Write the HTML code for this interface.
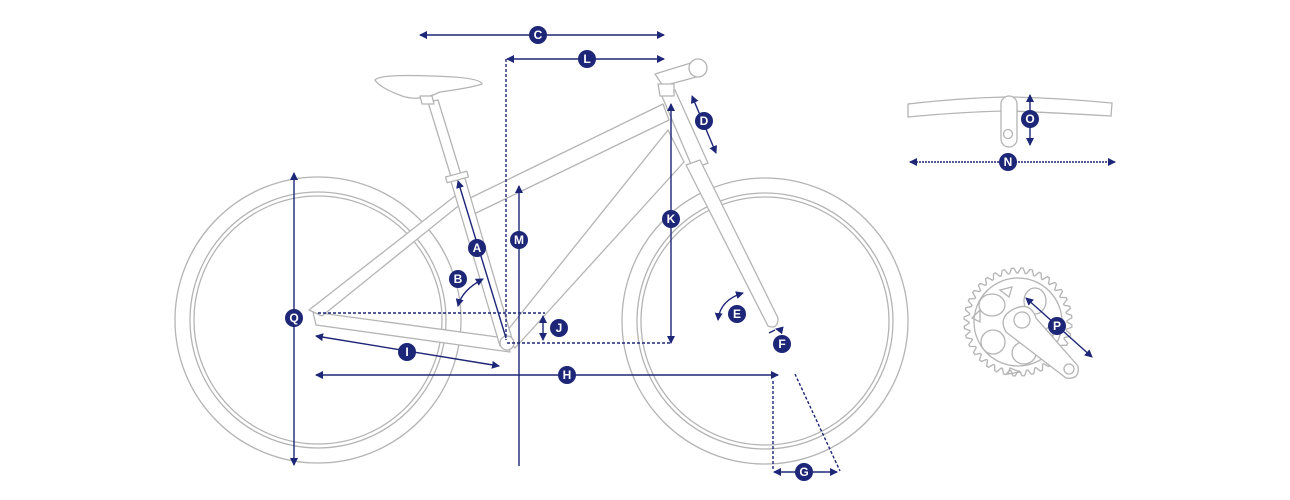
<!DOCTYPE html>
<html><head><meta charset="utf-8"><style>
html,body{margin:0;padding:0;background:#fff;}
svg{display:block}
text{font-family:"Liberation Sans",sans-serif;font-weight:bold;font-size:12px;fill:#fff;text-anchor:middle;dominant-baseline:central}
</style></head><body>
<svg width="1290" height="500" viewBox="0 0 1290 500" xmlns="http://www.w3.org/2000/svg">
<defs>
<marker id="a" markerWidth="8" markerHeight="8" refX="7" refY="4" orient="auto-start-reverse" markerUnits="userSpaceOnUse"><path d="M0,0 L8,4 L0,8 z" fill="#1d2677"/></marker>
</defs>
<g fill="none" stroke="#b4b4b4" stroke-width="1.3">
<circle cx="318" cy="320" r="143"/><circle cx="318" cy="320" r="128"/><circle cx="318" cy="320" r="124"/>
<circle cx="765" cy="321" r="143"/><circle cx="765" cy="321" r="128"/><circle cx="765" cy="321" r="124"/>
</g>
<g fill="#fff" stroke="#b4b4b4" stroke-width="1.3" stroke-linejoin="round">
<path d="M313,312 L505,338 L510,352 L316,325 Z"/>
<path d="M309,310 L455,196 L462,203 L322,316 Z"/>
<path d="M466,200 L663,104 L669,120 L474,214 Z"/>
<path d="M668,130 L503,336 L515,348 L684,162 Z"/>
<path d="M428,102 L438,100 L462,178 L452,180 Z"/>
<path d="M450,178 L464,175 L513,342 L500,346 Z"/>
<rect x="446" y="174" width="22" height="6" transform="rotate(-15 457 177)"/>
<path d="M661,94 L675,90 L708,163 L693,169 Z"/>
<path d="M686,165 L700,160 L778,318 Q778,330 768,326 Z"/>
<path d="M655,74 L694,62 L700,76 L663,86 Z"/>
<path d="M658,84 L674,84 L674,96 L660,96 Z"/>
<circle cx="698" cy="68" r="9"/>
<path d="M375,80 Q380,74 430,76 Q480,77 482,84 Q470,88 440,92 Q420,102 402,96 Q380,88 375,80 Z"/>
<path d="M420,96 L432,96 L434,104 L422,104 Z"/>
<circle cx="507" cy="343" r="7"/>
</g>
<g fill="#fff" stroke="#b4b4b4" stroke-width="1.3">
<path d="M908,104 Q960,98 1005,97 L1012,97 Q1060,98 1112,103 L1111,116 Q1060,113 1012,111 L1005,111 Q960,112 908,117 Z"/>
<rect x="1001" y="96" width="16" height="51" rx="8"/>
<circle cx="1008" cy="134" r="4.5"/>
</g>
<g fill="none" stroke="#b4b4b4" stroke-width="1.3">
<path id="teeth" d=""/>
<circle cx="1018" cy="322" r="44"/>
<ellipse cx="1035" cy="301" rx="11" ry="13"/><ellipse cx="992" cy="305" rx="13" ry="11"/>
<ellipse cx="993" cy="342" rx="12" ry="12"/><ellipse cx="1024" cy="353" rx="12" ry="11"/>
<path d="M1045,330 l10,-8 l-2,14 z M1000,290 l12,-3 l-3,10 z M972,318 l8,-8 l0,12 z M1010,368 l10,4 l-12,2 z"/>
<path fill="#fff" d="M1012,310 Q1030,300 1036,318 L1078,366 Q1080,380 1066,378 L1006,332 Q998,318 1012,310 Z"/>
<circle cx="1022" cy="320" r="8" fill="#fff"/><circle cx="1069" cy="369" r="5"/>
</g>
<g stroke="#1d2677" stroke-width="1.4" fill="none">
<line x1="420" y1="35" x2="664" y2="35" marker-start="url(#a)" marker-end="url(#a)"/>
<line x1="507" y1="59" x2="664" y2="59" marker-start="url(#a)" marker-end="url(#a)"/>
<line x1="506" y1="59" x2="506" y2="340" stroke-dasharray="3,2"/>
<line x1="692" y1="96" x2="716" y2="153" marker-start="url(#a)" marker-end="url(#a)"/>
<line x1="671" y1="104" x2="671" y2="343" marker-start="url(#a)" marker-end="url(#a)"/>
<line x1="507" y1="343" x2="671" y2="343" stroke-dasharray="3,2"/>
<line x1="519" y1="186" x2="519" y2="466" marker-start="url(#a)"/>
<line x1="506" y1="338" x2="458" y2="181" marker-end="url(#a)"/>
<path d="M458,306 Q462,290 483,279" marker-start="url(#a)" marker-end="url(#a)"/>
<line x1="318" y1="313" x2="545" y2="313" stroke-dasharray="3,2"/>
<line x1="543" y1="316" x2="543" y2="340" marker-start="url(#a)" marker-end="url(#a)"/>
<line x1="316" y1="336" x2="499" y2="366" marker-start="url(#a)" marker-end="url(#a)"/>
<line x1="316" y1="375" x2="778" y2="375" marker-start="url(#a)" marker-end="url(#a)"/>
<line x1="294" y1="173" x2="294" y2="465" marker-start="url(#a)" marker-end="url(#a)"/>
<path d="M718,320 Q720,300 743,293" marker-start="url(#a)" marker-end="url(#a)"/>
<path d="M769,333 l6,-3 M781,330 l-5,-1" marker-end="url(#a)"/>
<line x1="773" y1="381" x2="773" y2="470" stroke-dasharray="3,2"/>
<line x1="795" y1="374" x2="840" y2="471" stroke-dasharray="3,2"/>
<line x1="774" y1="472" x2="837" y2="472" marker-start="url(#a)" marker-end="url(#a)"/>
<line x1="910" y1="162" x2="1115" y2="162" stroke-dasharray="2,1" marker-start="url(#a)" marker-end="url(#a)"/>
<line x1="1030" y1="95" x2="1030" y2="145" marker-start="url(#a)" marker-end="url(#a)"/>
<line x1="1026" y1="298" x2="1092" y2="357" marker-start="url(#a)" marker-end="url(#a)"/>
</g>
<g fill="#1d2677">
<circle cx="538" cy="35" r="9"/><circle cx="587" cy="59" r="9"/><circle cx="704" cy="121" r="9"/>
<circle cx="671" cy="219" r="9"/><circle cx="519" cy="240" r="9"/><circle cx="477" cy="248" r="9"/>
<circle cx="458" cy="279" r="9"/><circle cx="559" cy="328" r="9"/><circle cx="407" cy="352" r="9"/>
<circle cx="567" cy="375" r="9"/><circle cx="294" cy="318" r="9"/><circle cx="737" cy="314" r="9"/>
<circle cx="782" cy="344" r="9"/><circle cx="804" cy="472" r="9"/><circle cx="1008" cy="162" r="9"/>
<circle cx="1030" cy="119" r="9"/><circle cx="1057" cy="326" r="9"/>
</g>
<g>
<text x="538" y="35">C</text><text x="587" y="59">L</text><text x="704" y="121">D</text>
<text x="671" y="219">K</text><text x="519" y="240">M</text><text x="477" y="248">A</text>
<text x="458" y="279">B</text><text x="559" y="328">J</text><text x="407" y="352">I</text>
<text x="567" y="375">H</text><text x="294" y="318">Q</text><text x="737" y="314">E</text>
<text x="782" y="344">F</text><text x="804" y="472">G</text><text x="1008" y="162">N</text>
<text x="1030" y="119">O</text><text x="1057" y="326">P</text>
</g>
</svg>
<script>
(function(){var cx=1018,cy=322,n=36,d="";for(var i=0;i<n;i++){var a0=i/n*2*Math.PI,a1=(i+0.3)/n*2*Math.PI,a2=(i+0.55)/n*2*Math.PI,a3=(i+0.85)/n*2*Math.PI;var p=[[a0,49],[a1,54],[a2,54],[a3,49]];p.forEach(function(q,j){d+=(i==0&&j==0?"M":"L")+(cx+q[1]*Math.cos(q[0])).toFixed(1)+","+(cy+q[1]*Math.sin(q[0])).toFixed(1)});}document.getElementById("teeth").setAttribute("d",d+"Z");})();
</script>
</body></html>
